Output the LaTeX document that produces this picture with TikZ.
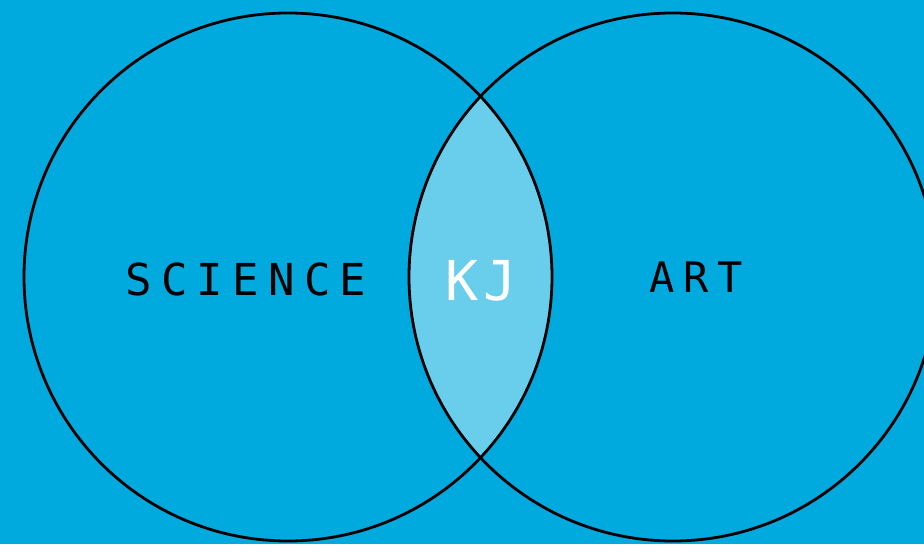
\documentclass[tikz,border=0pt]{standalone}
\usepackage{fontspec}
\usetikzlibrary{positioning}
\newfontfamily\vennfont{DejaVu Sans Mono}
\definecolor{VennBlue}{RGB}{0,170,223}
\definecolor{LensBlue}{RGB}{105,205,236}
\tikzset{
  setring/.style={line width=2.8pt,black},
  setname/.style={text=black,inner sep=0pt},
}

\begin{document}
\begin{tikzpicture}[x=1pt,y=1pt]
      \useasboundingbox (0,0) rectangle (924,544);
      \fill[VennBlue] (0,0) rectangle (924,544);
      \coordinate (sci) at (288,267);
      \coordinate (art) at (673,267);
      \begin{scope}
        \clip (sci) circle (264);
        \fill[LensBlue] (art) circle (264);
      \end{scope}
      \draw[setring] (sci) circle (264);
      \draw[setring] (art) circle (264);
      \node[setname,font={\vennfont\addfontfeature{LetterSpace=21}\fontsize{44}{44}\selectfont}] (science) at (246,265) {SCIENCE};
      \node[setname,text=white,font={\vennfont\addfontfeature{LetterSpace=9}\fontsize{55}{55}\selectfont}] (kj) at (481,263) {KJ};
      \node[setname,font={\vennfont\addfontfeature{LetterSpace=21}\fontsize{42}{42}\selectfont}] (art label) at (696,267) {ART};
    \end{tikzpicture}
\end{document}
